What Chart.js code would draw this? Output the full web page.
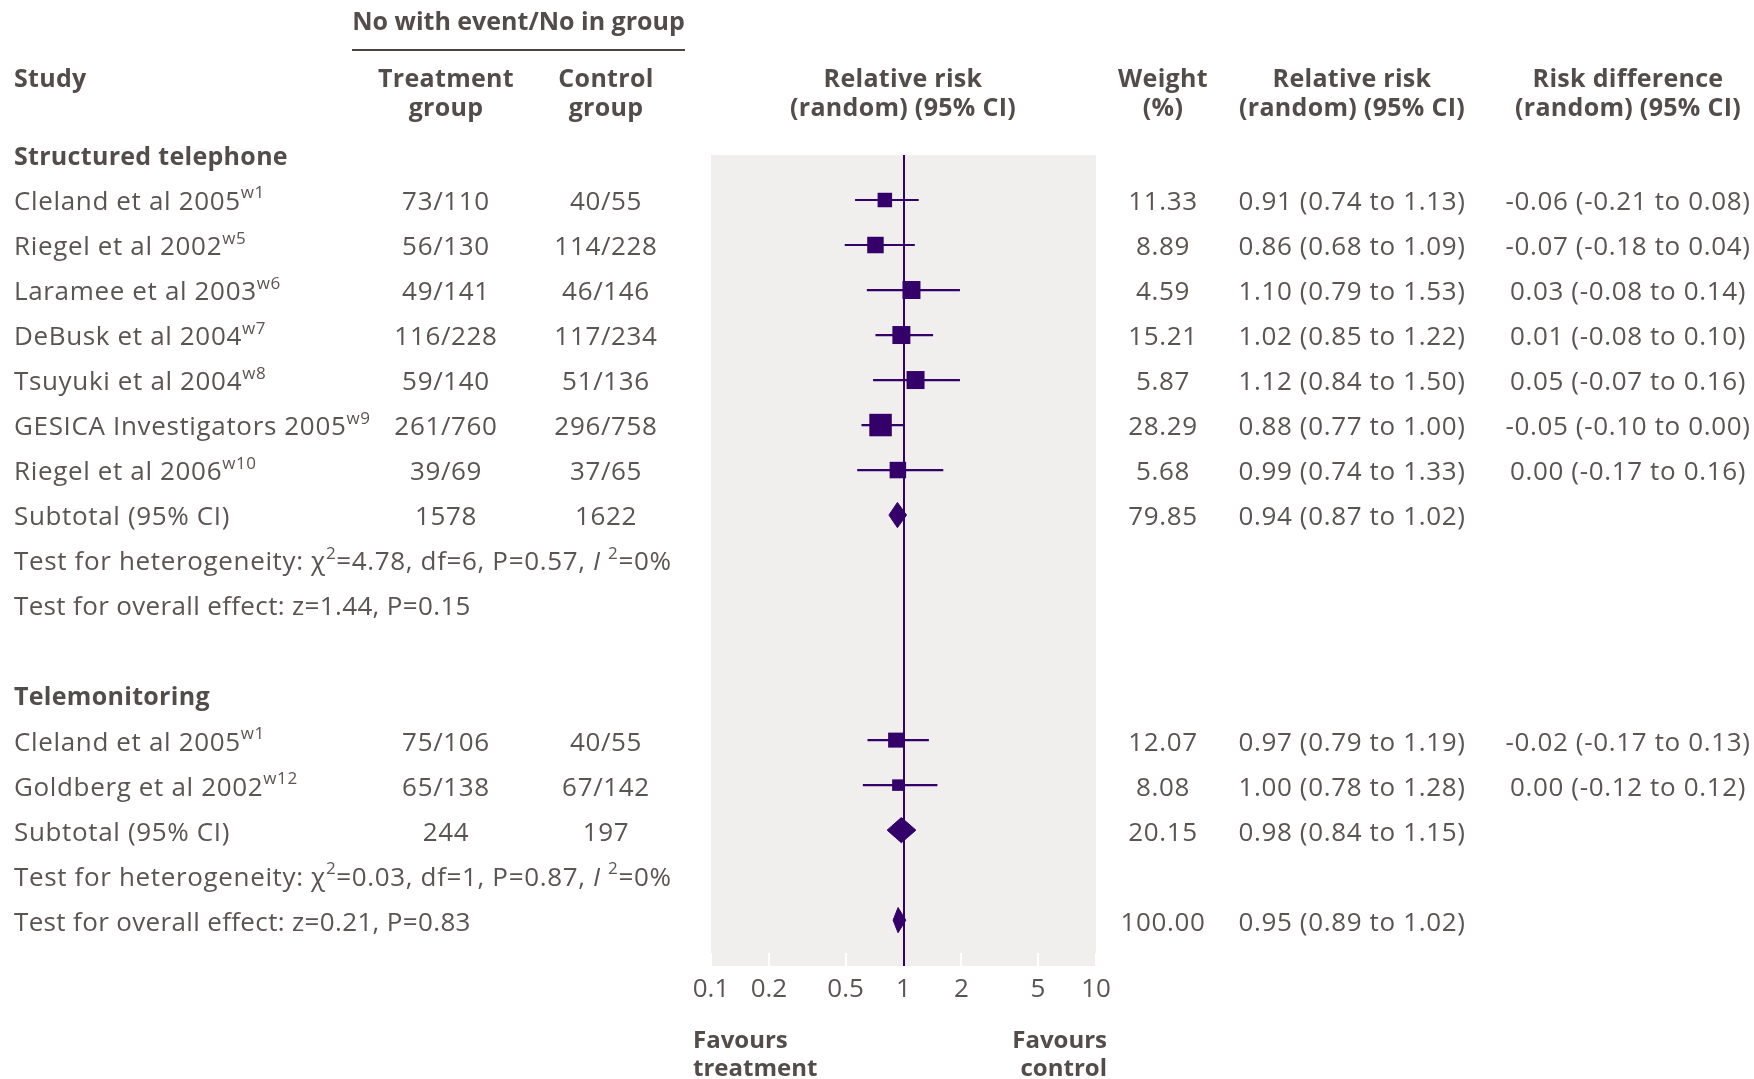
<!DOCTYPE html>
<html>
<head>
<meta charset="utf-8">
<title>Forest plot</title>
<script src="https://cdn.jsdelivr.net/npm/chart.js@4.4.1/dist/chart.umd.min.js"></script>
<style>
  html, body { margin: 0; padding: 0; background: #fff; }
  canvas { display: block; }
</style>
</head>
<body>
<canvas id="myChart" width="1754" height="1079"></canvas>
<script>
// ---- data (as printed) ----
var studyNames = ['Cleland et al 2005', 'Riegel et al 2002', 'Laramee et al 2003', 'DeBusk et al 2004',
  'Tsuyuki et al 2004', 'GESICA Investigators 2005', 'Riegel et al 2006', 'Cleland et al 2005', 'Goldberg et al 2002'];
var studyRefs = ['w1', 'w5', 'w6', 'w7', 'w8', 'w9', 'w10', 'w1', 'w12'];
var studyGroup = [0, 0, 0, 0, 0, 0, 0, 1, 1];
var treatEvents = [73, 56, 49, 116, 59, 261, 39, 75, 65];
var treatTotal = [110, 130, 141, 228, 140, 760, 69, 106, 138];
var ctrlEvents = [40, 114, 46, 117, 51, 296, 37, 40, 67];
var ctrlTotal = [55, 228, 146, 234, 136, 758, 65, 55, 142];
var weights = [11.33, 8.89, 4.59, 15.21, 5.87, 28.29, 5.68, 12.07, 8.08];
var rr = [0.91, 0.86, 1.10, 1.02, 1.12, 0.88, 0.99, 0.97, 1.00];
var rrLo = [0.74, 0.68, 0.79, 0.85, 0.84, 0.77, 0.74, 0.79, 0.78];
var rrHi = [1.13, 1.09, 1.53, 1.22, 1.50, 1.00, 1.33, 1.19, 1.28];
var rd = [-0.06, -0.07, 0.03, 0.01, 0.05, -0.05, 0.00, -0.02, 0.00];
var rdLo = [-0.21, -0.18, -0.08, -0.08, -0.07, -0.10, -0.17, -0.17, -0.12];
var rdHi = [0.08, 0.04, 0.14, 0.10, 0.16, 0.00, 0.16, 0.13, 0.12];

var groupNames = ['Structured telephone', 'Telemonitoring'];
var subWeight = [79.85, 20.15];
var subRr = [0.94, 0.98];
var subLo = [0.87, 0.84];
var subHi = [1.02, 1.15];
var hetChi = ['4.78', '0.03'];
var hetDf = [6, 1];
var hetP = ['0.57', '0.87'];
var effZ = ['1.44', '0.21'];
var effP = ['0.15', '0.83'];
var totalWeight = 100.00;
var totalRr = 0.95, totalLo = 0.89, totalHi = 1.02;

// ---- positions of the marks as drawn in the plot ----
var plotEst = [0.80, 0.715, 1.10, 0.975, 1.155, 0.76, 0.935, 0.91, 0.935];
var plotLo = [0.56, 0.495, 0.645, 0.715, 0.695, 0.605, 0.575, 0.65, 0.615];
var plotHi = [1.20, 1.145, 1.965, 1.425, 1.965, 1.00, 1.61, 1.355, 1.50];
var subPlotEst = [0.93, 0.975];
var subPlotLo = [0.84, 0.822];
var subPlotHi = [1.037, 1.16];
var totPlotEst = 0.937, totPlotLo = 0.883, totPlotHi = 1.028;

var tickValues = [0.1, 0.2, 0.5, 1, 2, 5, 10];

// row layout of the table
var studyRows = [1, 2, 3, 4, 5, 6, 7, 13, 14];
var groupRows = [0, 12];
var subRows = [8, 15];
var totalRow = 17;

// ---- styles ----
var PURPLE = '#34006a';
var PANEL = '#f0efee';
var TXT = '#5a5452';
var HEAD = '#524c4a';
var FAMILY = "'Open Sans', 'DejaVu Sans', sans-serif";
var BODY = 26;
var BOLD = 25;
var DY = 3; // text sits a little below row centre
var BOXSIDE = [14.5, 16.5, 18, 18, 18, 22.5, 16.5, 15, 11.5];
var DIAMOND_H = 0.28;

var COL_STUDY = 14, COL_TREAT = 446, COL_CTRL = 606, COL_PLOT = 903;
var COL_W = 1163, COL_RR = 1352, COL_RD = 1628;

function ci(v, lo, hi) {
  return v.toFixed(2) + ' (' + lo.toFixed(2) + ' to ' + hi.toFixed(2) + ')';
}

// CI lines: two points per study and a gap point
var ciData = [];
studyRows.forEach(function (r, i) {
  ciData.push({x: plotLo[i], y: r});
  ciData.push({x: plotHi[i], y: r});
  ciData.push({x: plotHi[i], y: null});
});

var boxData = studyRows.map(function (r, i) { return {x: plotEst[i], y: r}; });

function diamond(est, lo, hi, r) {
  return [
    {x: lo, y: r}, {x: est, y: r - DIAMOND_H}, {x: hi, y: r},
    {x: est, y: r + DIAMOND_H}, {x: lo, y: r}
  ];
}

var diamondSets = [];
subRows.forEach(function (r, g) {
  diamondSets.push(diamond(subPlotEst[g], subPlotLo[g], subPlotHi[g], r));
});
diamondSets.push(diamond(totPlotEst, totPlotLo, totPlotHi, totalRow));

function fontFor(p, size, weight) {
  return (p.it ? 'italic ' : '') + weight + ' ' + (p.sup ? Math.round(size * 0.66) : size) + 'px ' + FAMILY;
}

function rich(ctx, parts, x, y, align, size, weight, spacing) {
  ctx.letterSpacing = spacing || (weight === 'bold' ? '0.3px' : '0.65px');
  var w = 0;
  parts.forEach(function (p) {
    ctx.font = fontFor(p, size, weight);
    w += ctx.measureText(p.t).width;
  });
  var cx = align === 'center' ? x - w / 2 : (align === 'right' ? x - w : x);
  ctx.textAlign = 'left';
  parts.forEach(function (p) {
    ctx.font = fontFor(p, size, weight);
    ctx.fillText(p.t, cx, (p.sup ? y - size * 0.36 : y) + DY);
    cx += ctx.measureText(p.t).width;
  });
}

function txt(ctx, s, x, y, align, bold) {
  rich(ctx, [{t: s}], x, y, align, bold ? BOLD : BODY, bold ? 'bold' : 'normal');
}

var panelPlugin = {
  id: 'panel',
  beforeDraw: function (chart) {
    var a = chart.chartArea, ctx = chart.ctx;
    ctx.save();
    ctx.fillStyle = PANEL;
    ctx.fillRect(a.left, a.top, a.right - a.left, a.bottom - a.top + chart.options.scales.x.grid.tickLength);
    ctx.restore();
  }
};

var tablePlugin = {
  id: 'table',
  afterDraw: function (chart) {
    var ctx = chart.ctx;
    var ys = chart.scales.y;
    ctx.save();
    ctx.textBaseline = 'middle';

    // header
    ctx.fillStyle = HEAD;
    rich(ctx, [{t: 'No with event/No in group'}], (352 + 685) / 2, 20, 'center', BOLD, 'bold', '0px');
    ctx.strokeStyle = '#4a4442';
    ctx.lineWidth = 2;
    ctx.beginPath();
    ctx.moveTo(352, 50);
    ctx.lineTo(685, 50);
    ctx.stroke();
    txt(ctx, 'Study', COL_STUDY, 77, 'left', true);
    var heads = [
      [COL_TREAT, 'Treatment', 'group'],
      [COL_CTRL, 'Control', 'group'],
      [COL_PLOT, 'Relative risk', '(random) (95% CI)'],
      [COL_W, 'Weight', '(%)'],
      [COL_RR, 'Relative risk', '(random) (95% CI)'],
      [COL_RD, 'Risk difference', '(random) (95% CI)']
    ];
    heads.forEach(function (h) {
      txt(ctx, h[1], h[0], 77, 'center', true);
      txt(ctx, h[2], h[0], 106, 'center', true);
    });
    groupRows.forEach(function (r, g) {
      txt(ctx, groupNames[g], COL_STUDY, ys.getPixelForValue(r), 'left', true);
    });

    // study rows
    ctx.fillStyle = TXT;
    studyRows.forEach(function (r, i) {
      var y = ys.getPixelForValue(r);
      rich(ctx, [{t: studyNames[i]}, {t: studyRefs[i], sup: true}], COL_STUDY, y, 'left', BODY, 'normal');
      txt(ctx, treatEvents[i] + '/' + treatTotal[i], COL_TREAT, y, 'center');
      txt(ctx, ctrlEvents[i] + '/' + ctrlTotal[i], COL_CTRL, y, 'center');
      txt(ctx, weights[i].toFixed(2), COL_W, y, 'center');
      txt(ctx, ci(rr[i], rrLo[i], rrHi[i]), COL_RR, y, 'center');
      txt(ctx, ci(rd[i], rdLo[i], rdHi[i]), COL_RD, y, 'center');
    });

    // subtotals and tests
    subRows.forEach(function (r, g) {
      var y = ys.getPixelForValue(r);
      var tN = 0, cN = 0;
      studyGroup.forEach(function (sg, i) {
        if (sg === g) { tN += treatTotal[i]; cN += ctrlTotal[i]; }
      });
      txt(ctx, 'Subtotal (95% CI)', COL_STUDY, y, 'left');
      txt(ctx, String(tN), COL_TREAT, y, 'center');
      txt(ctx, String(cN), COL_CTRL, y, 'center');
      txt(ctx, subWeight[g].toFixed(2), COL_W, y, 'center');
      txt(ctx, ci(subRr[g], subLo[g], subHi[g]), COL_RR, y, 'center');
      rich(ctx, [
        {t: 'Test for heterogeneity: \u03c7'}, {t: '2', sup: true},
        {t: '=' + hetChi[g] + ', df=' + hetDf[g] + ', P=' + hetP[g] + ', '},
        {t: 'I', it: true}, {t: ' '}, {t: '2', sup: true}, {t: '=0%'}
      ], COL_STUDY, ys.getPixelForValue(r + 1), 'left', BODY, 'normal');
      rich(ctx, [{t: 'Test for overall effect: z=' + effZ[g] + ', P=' + effP[g]}],
        COL_STUDY, ys.getPixelForValue(r + 2), 'left', BODY, 'normal', '0.35px');
    });
    var yt = ys.getPixelForValue(totalRow);
    txt(ctx, totalWeight.toFixed(2), COL_W, yt, 'center');
    txt(ctx, ci(totalRr, totalLo, totalHi), COL_RR, yt, 'center');

    // favours labels
    ctx.fillStyle = HEAD;
    rich(ctx, [{t: 'Favours'}], 693, 1038, 'left', 24, 'bold', '0px');
    rich(ctx, [{t: 'treatment'}], 693, 1066, 'left', 24, 'bold', '0px');
    rich(ctx, [{t: 'Favours'}], 1107, 1038, 'right', 24, 'bold', '0px');
    rich(ctx, [{t: 'control'}], 1107, 1066, 'right', 24, 'bold', '0px');
    ctx.restore();
  }
};

var datasets = [
  {
    type: 'line', data: ciData, borderColor: PURPLE, borderWidth: 2.2,
    pointRadius: 0, spanGaps: false, tension: 0, fill: false
  },
  {
    type: 'scatter', data: boxData, pointStyle: 'rect',
    pointRadius: BOXSIDE.map(function (s) { return s / Math.SQRT2; }),
    pointHoverRadius: BOXSIDE.map(function (s) { return s / Math.SQRT2; }),
    backgroundColor: PURPLE, borderWidth: 0
  }
];
diamondSets.forEach(function (d) {
  datasets.push({
    type: 'line', data: d, borderColor: PURPLE, backgroundColor: PURPLE,
    borderWidth: 1, pointRadius: 0, tension: 0, fill: 'shape'
  });
});

var ctx = document.getElementById('myChart');

const cfg = {
  type: 'scatter',
  data: { datasets: datasets },
  plugins: [panelPlugin, tablePlugin],
  options: {
    responsive: false,
    animation: false,
    events: [],
    layout: { padding: { left: 711, right: 658, top: 155, bottom: 66 } },
    plugins: { legend: { display: false }, tooltip: { enabled: false } },
    scales: {
      x: {
        type: 'logarithmic',
        min: 0.1,
        max: 10,
        afterBuildTicks: function (scale) {
          scale.ticks = tickValues.map(function (v) { return {value: v}; });
        },
        afterFit: function (scale) { scale.height = 60; },
        border: { display: false },
        grid: {
          color: function (c) { return c.tick && c.tick.value === 1 ? PURPLE : 'rgba(0,0,0,0)'; },
          tickColor: function (c) { return c.tick && c.tick.value === 1 ? PURPLE : '#ffffff'; },
          lineWidth: 2,
          tickWidth: 2,
          tickLength: 13
        },
        ticks: {
          autoSkip: false,
          maxRotation: 0,
          padding: 8,
          color: TXT,
          font: { family: FAMILY, size: BODY },
          callback: function (v) { return String(v); }
        }
      },
      y: {
        type: 'linear',
        display: false,
        reverse: true,
        min: 0,
        max: 17.73
      }
    }
  }
};

new Chart(ctx, cfg);
</script>
</body>
</html>
